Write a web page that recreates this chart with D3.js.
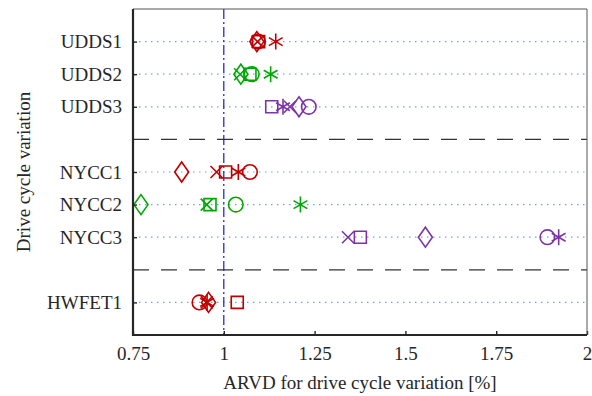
<!DOCTYPE html>
<html>
<head>
<meta charset="utf-8">
<script src="https://cdn.jsdelivr.net/npm/d3@7"></script>
<style>
  body { margin: 0; background: #fff; }
</style>
</head>
<body>
<div id="chart"></div>
<script>
// rows from top to bottom (positions 1..3, 5..7, 9 on y scale)
const cycles = ["UDDS1", "UDDS2", "UDDS3", "NYCC1", "NYCC2", "NYCC3", "HWFET1"];
const rowPos = [1, 2, 3, 5, 6, 7, 9];
const rowColors = ["#c00000", "#00a800", "#7b35a8", "#c00000", "#00a800", "#7b35a8", "#c00000"];
const separators = [4, 8];
const xTicks = [0.75, 1, 1.25, 1.5, 1.75, 2];

// ARVD values per marker type, one per cycle
const circleVals   = [1.094, 1.077, 1.234, 1.072, 1.033, 1.891, 0.933];
const diamondVals  = [1.091, 1.047, 1.207, 0.884, 0.772, 1.555, 0.958];
const crossVals    = [1.093, 1.045, 1.182, 0.980, 0.953, 1.342, 0.953];
const squareVals   = [1.096, 1.072, 1.132, 1.005, 0.962, 1.376, 1.037];
const asteriskVals = [1.143, 1.129, 1.163, 1.040, 1.211, 1.922, 0.954];

const W = 592, H = 396;
const margin = {top: 9, right: 5, bottom: 61, left: 133};
const width = W - margin.left - margin.right;
const height = H - margin.top - margin.bottom;
const FONT = "'Liberation Serif'";
const FS = 19;
const TEXT = "#262626";

// serif labels, set both as attribute and inline style
function serif(sel) {
    return sel.attr("font-family", FONT)
        .style("font-family", FONT)
        .style("font-size", FS + "px")
        .attr("fill", TEXT);
}

const svg = d3.select("#chart").append("svg")
    .attr("width", W).attr("height", H);
const g = svg.append("g").attr("transform", `translate(${margin.left},${margin.top})`);

const x = d3.scaleLinear().domain([0.75, 2]).range([0, width]);
const y = d3.scaleLinear().domain([0, 10]).range([0, height]);

// dotted row guides
g.selectAll(".guide").data(rowPos).enter().append("line")
    .attr("x1", 0).attr("x2", width)
    .attr("y1", d => y(d)).attr("y2", d => y(d))
    .attr("stroke", "#6fa8dc").attr("stroke-width", 1.2)
    .attr("stroke-dasharray", "1.5,4.5");

// group separators
g.selectAll(".sep").data(separators).enter().append("line")
    .attr("x1", 0).attr("x2", width)
    .attr("y1", d => y(d)).attr("y2", d => y(d))
    .attr("stroke", "#333").attr("stroke-width", 1.2)
    .attr("stroke-dasharray", "16,12");

// reference line at 1 %
g.append("line")
    .attr("x1", x(1)).attr("x2", x(1))
    .attr("y1", 0).attr("y2", height)
    .attr("stroke", "#1a1acc").attr("stroke-width", 1.2)
    .attr("stroke-dasharray", "10,3,2,3");

// marker shapes
const shapes = {
    circle: "M7.3,0A7.3,7.3 0 1,1 -7.3,0A7.3,7.3 0 1,1 7.3,0Z",
    diamond: "M0,-10L7,0L0,10L-7,0Z",
    cross: "M-6,-6L6,6M-6,6L6,-6",
    square: "M-6,-6H6V6H-6Z",
    asterisk: "M0,-8V8M-6.9,-4L6.9,4M-6.9,4L6.9,-4"
};
const series = [
    {shape: "square", vals: squareVals},
    {shape: "cross", vals: crossVals},
    {shape: "asterisk", vals: asteriskVals},
    {shape: "diamond", vals: diamondVals},
    {shape: "circle", vals: circleVals}
];
series.forEach(s => {
    g.selectAll(null).data(s.vals).enter().append("path")
        .attr("d", shapes[s.shape])
        .attr("transform", (d, i) => `translate(${x(d)},${y(rowPos[i])})`)
        .attr("fill", "none")
        .attr("stroke", (d, i) => rowColors[i])
        .attr("stroke-width", 1.6);
});

// axes
const xAxis = g.append("g").attr("transform", `translate(0,${height})`)
    .call(d3.axisBottom(x).tickValues(xTicks).tickFormat(d3.format("")).tickSizeInner(-4).tickSizeOuter(0).tickPadding(12));
const yAxis = g.append("g")
    .call(d3.axisLeft(y).tickValues(rowPos).tickFormat((d, i) => cycles[i]).tickSizeInner(-4).tickSizeOuter(0).tickPadding(11));
[xAxis, yAxis].forEach(a => {
    a.attr("font-family", null).attr("font-size", null);
    a.select(".domain").remove();
    a.selectAll(".tick line").attr("stroke", TEXT).attr("stroke-width", 1.4);
    serif(a.selectAll("text"));
});
xAxis.selectAll(".tick text").attr("dy", "0.71em");

// frame: light top/right, heavy left/bottom
g.append("path").attr("d", `M0,0H${width}V${height}`)
    .attr("fill", "none").attr("stroke", "#555").attr("stroke-width", 1);
g.append("path").attr("d", `M0,0V${height}H${width}`)
    .attr("fill", "none").attr("stroke", TEXT).attr("stroke-width", 2.2);

// labels
serif(svg.append("text"))
    .attr("x", margin.left + width / 2).attr("y", 389)
    .attr("text-anchor", "middle")
    .text("ARVD for drive cycle variation [%]");
serif(svg.append("text"))
    .attr("transform", `translate(30,${margin.top + height / 2}) rotate(-90)`)
    .attr("text-anchor", "middle")
    .text("Drive cycle variation");
</script>
</body>
</html>
